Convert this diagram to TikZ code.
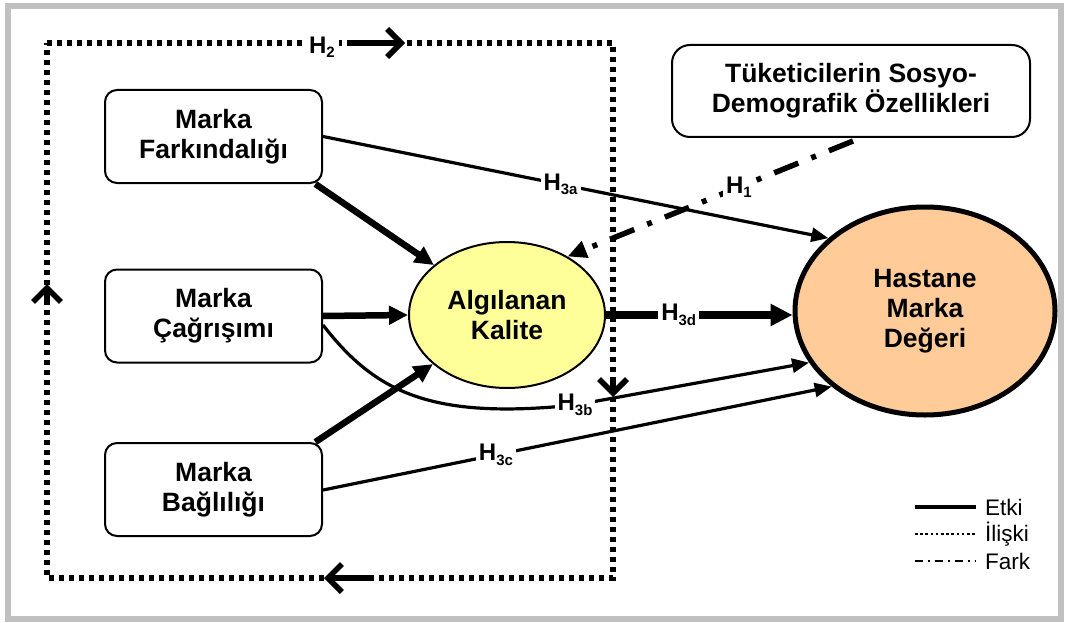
\documentclass[tikz,border=0pt]{standalone}
\usepackage{fontspec}
\setmainfont{Liberation Sans}
\usetikzlibrary{arrows.meta,shapes.geometric,calc}

\definecolor{framegray}{HTML}{C0C0C0}
\definecolor{kalitefill}{HTML}{FFFF99}
\definecolor{degerfill}{HTML}{FFCC99}

% H label with a lowered subscript
\newcommand{\Hlab}[1]{H\raisebox{-0.35ex}{\fontsize{15}{15}\selectfont #1}}

\begin{document}
\begin{tikzpicture}[x=1pt,y=-1pt,
  box/.style={draw,line width=2pt,rounded corners=12pt,fill=white,
    minimum width=217pt,minimum height=93pt,align=center,inner sep=0pt,
    font=\fontsize{26.5}{30}\selectfont\bfseries},
  construct/.style={ellipse,draw,align=center,inner sep=0pt,
    font=\fontsize{26.5}{30}\selectfont\bfseries},
  lab/.style={fill=white,inner sep=3pt,font=\fontsize{24}{24}\selectfont\bfseries},
  thickarrow/.style={line width=6.5pt,-{Triangle[length=19pt,width=18pt]}},
  thinarrow/.style={line width=3.2pt,-{Triangle[length=17pt,width=14pt]}},
  dotline/.style={line width=5.5pt,dash pattern=on 5pt off 5pt},
  chevron/.style={line width=5.5pt,line cap=round,-{Straight Barb[length=14pt,width=28pt]}},
  fark/.style={line width=5.5pt,dash pattern=on 26pt off 14pt on 5pt off 14pt},
  legtext/.style={anchor=west,inner sep=0pt,font=\fontsize{22.5}{22.5}\selectfont}
]
\useasboundingbox (0,0) rectangle (1068,623);

% outer gray frame
\draw[framegray,line width=6pt] (8,6) rectangle (1061,619);

% dotted relation loop with its direction arrows
\coordinate (lt) at (47,43);
\coordinate (rt) at (613,43);
\coordinate (rb) at (613,578);
\coordinate (lb) at (47,578);
\draw[dotline] (lt) -- (rt) -- (rb) -- (lb) -- cycle;
\node[lab,inner sep=4pt] (h2) at (322,47) {\Hlab{2}};
\coordinate (topA) at (352,43);   \coordinate (topB) at (405,43);
\coordinate (botA) at (370,578);  \coordinate (botB) at (324,578);
\coordinate (lefA) at (47,300);   \coordinate (lefB) at (47,284);
\coordinate (rigA) at (613,380);  \coordinate (rigB) at (613,397);
\draw[chevron] (topA) -- (topB);
\draw[chevron] (botA) -- (botB);
\draw[chevron] (lefA) -- (lefB);
\draw[chevron] (rigA) -- (rigB);

% constructs
\node[box] (b1) at (213.5,136.5) {Marka\\Farkındalığı};
\node[box] (b2) at (213.5,316) {Marka\\Çağrışımı};
\node[box] (b3) at (213.5,489.5) {Marka\\Bağlılığı};
\node[box,minimum width=358pt,minimum height=92pt,rounded corners=18pt] (demo) at (851,91)
  {Tüketicilerin Sosyo-\\Demografik Özellikleri};
\node[construct,fill=kalitefill,line width=2pt,minimum width=196pt,minimum height=146pt]
  (kal) at (507,315) {Algılanan\\Kalite};
\node[construct,fill=degerfill,line width=5pt,minimum width=260pt,minimum height=208pt]
  (hmd) at (925,311) {Hastane\\Marka\\Değeri};

% effects on perceived quality
\draw[thickarrow] (b1.-25) -- (kal);
\draw[thickarrow] (b2.east) -- (kal.west);
\draw[thickarrow] (b3.25) -- (kal);

% effects on hospital brand equity
\draw[line width=7.5pt,-{Triangle[length=22pt,width=21pt]}]
  (kal.east) -- (hmd.west |- kal.east) node[lab,pos=0.39] {\Hlab{3d}};
\draw[thinarrow] (b1.east) -- (hmd.143) node[lab,pos=0.47] {\Hlab{3a}};
\draw[thinarrow] ($(b2.east)+(0,9)$) .. controls (375,392) and (430,420) .. (575,405)
  node[lab] {\Hlab{3b}} -- (hmd.204);
\draw[thinarrow] ($(b3.east)+(0,0.5)$) -- (hmd.219) node[lab,pos=0.34] {\Hlab{3c}};

% socio-demographic difference
\draw[fark,-{Triangle[length=19pt,width=17pt]}] ($(demo.south)+(2,3)$) -- (kal.44)
  node[lab,pos=0.40] {\Hlab{1}};

% legend
\coordinate (l1a) at (915,507); \coordinate (l1b) at (976,507);
\coordinate (l2a) at (915,534); \coordinate (l2b) at (976,534);
\coordinate (l3a) at (915,561); \coordinate (l3b) at (976,561);
\draw[line width=3.5pt] (l1a) -- (l1b);
\draw[line width=2.6pt,dash pattern=on 2.6pt off 2.6pt] (l2a) -- (l2b);
\draw[line width=1.6pt,dash pattern=on 8pt off 5pt on 2pt off 5pt] (l3a) -- (l3b);
\node[legtext] (t1) at (985,507) {Etki};
\node[legtext] (t2) at (985,534) {İlişki};
\node[legtext] (t3) at (985,561) {Fark};
\end{tikzpicture}
\end{document}
